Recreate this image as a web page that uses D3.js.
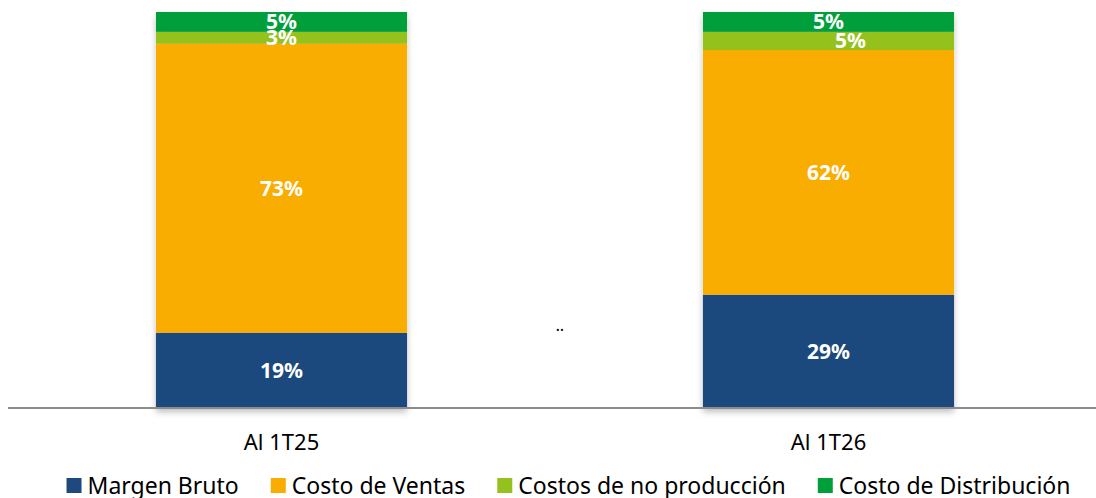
<!DOCTYPE html>
<html>
<head>
<meta charset="utf-8">
<script src="https://cdn.jsdelivr.net/npm/d3@7"></script>
<style>
  body { margin: 0; background: #fff; }
  text { font-family: "Noto Sans", "Open Sans", sans-serif; }
</style>
</head>
<body>
<div id="chart"></div>
<script>
// datos del gráfico
var categories = ['Al 1T25', 'Al 1T26'];
var series = ['Margen Bruto', 'Costo de Ventas', 'Costos de no producción', 'Costo de Distribución'];
var margenBruto = [19, 28.6];
var costoVentas = [73, 61.8];
var costosNoProduccion = [3, 4.6];
var costoDistribucion = [5, 5.0];
var colors = ['#1f497d', '#f9ad00', '#95c11f', '#009f3a'];

var width = 1096;
var height = 498;
var padding = {top: 12, right: 0, bottom: 90, left: 8};

var rows = categories.map(function (c, i) {
    return {
        cat: c,
        'Margen Bruto': margenBruto[i],
        'Costo de Ventas': costoVentas[i],
        'Costos de no producción': costosNoProduccion[i],
        'Costo de Distribución': costoDistribucion[i]
    };
});
var stacked = d3.stack().keys(series)(rows);

var svg = d3.select('#chart')
    .append('svg')
    .attr('width', width)
    .attr('height', height);

var defs = svg.append('defs');
var f = defs.append('filter').attr('id', 'sh').attr('x', '-5%').attr('y', '-5%').attr('width', '110%').attr('height', '115%');
f.append('feDropShadow').attr('dx', 0).attr('dy', 4).attr('stdDeviation', 3)
    .attr('flood-color', '#000').attr('flood-opacity', 0.25);

var xScale = d3.scaleBand()
    .domain(categories)
    .range([padding.left, padding.left + 1094])
    .paddingInner(0.541)
    .paddingOuter(0.2705);
var yScale = d3.scaleLinear()
    .domain([0, 100])
    .range([height - padding.bottom, padding.top]);

// barras apiladas
var barG = svg.append('g').attr('filter', 'url(#sh)');
barG.selectAll('g')
    .data(stacked)
    .enter()
    .append('g')
    .attr('fill', function (d, i) { return colors[i]; })
    .selectAll('rect')
    .data(function (d) { return d; })
    .enter()
    .append('rect')
    .attr('x', function (d) { return xScale(d.data.cat); })
    .attr('y', function (d) { return yScale(d[1]); })
    .attr('width', xScale.bandwidth())
    .attr('height', function (d) { return yScale(d[0]) - yScale(d[1]); });

// eje x
var xAxis = d3.axisBottom(xScale).tickSize(0).tickPadding(26);
var axG = svg.append('g')
    .attr('transform', 'translate(0,' + yScale(0) + ')')
    .call(xAxis);
axG.select('.domain').remove();
axG.append('line')
    .attr('x1', padding.left).attr('x2', width)
    .attr('stroke', '#8c8c8c').attr('stroke-width', 2);
axG.selectAll('.tick text')
    .attr('font-size', '22px')
    .attr('fill', '#000')
    .style('font-family', '"Noto Sans", sans-serif');

// etiquetas de porcentaje
stacked.forEach(function (s, si) {
    svg.append('g').selectAll('text')
        .data(s)
        .enter()
        .append('text')
        .attr('x', function (d, i) {
            var dx = (si === 2 && i === 1) ? 22 : 0;
            return xScale(d.data.cat) + xScale.bandwidth() / 2 + dx;
        })
        .attr('y', function (d) { return (yScale(d[0]) + yScale(d[1])) / 2; })
        .attr('dy', '0.36em')
        .attr('text-anchor', 'middle')
        .attr('font-size', '21px')
        .attr('font-weight', 'bold')
        .attr('fill', '#fff')
        .text(function (d) { return Math.round(d[1] - d[0]) + '%'; });
});

svg.append('text')
    .attr('x', 560).attr('y', 345)
    .attr('text-anchor', 'middle')
    .attr('font-size', '22px')
    .text('¨');

// leyenda
var legend = svg.append('g');
var lx = 0;
var items = legend.selectAll('g')
    .data(series)
    .enter()
    .append('g');
items.append('rect')
    .attr('y', -8).attr('width', 15).attr('height', 15)
    .attr('fill', function (d, i) { return colors[i]; });
items.append('text')
    .attr('x', 21)
    .attr('dy', '0.36em')
    .attr('font-size', '23px')
    .attr('fill', '#000')
    .text(function (d) { return d; });
items.each(function () {
    var g = d3.select(this);
    g.attr('transform', 'translate(' + lx + ',0)');
    lx += 21 + g.select('text').node().getComputedTextLength() + 32;
});
var total = lx - 32;
legend.attr('transform', 'translate(' + ((65 + 1072) / 2 - total / 2) + ',486)');
</script>
</body>
</html>
